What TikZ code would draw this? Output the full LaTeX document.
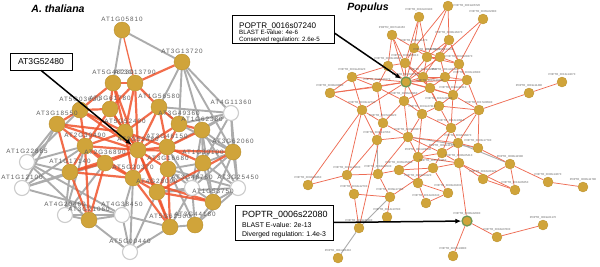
\documentclass[tikz,border=0pt]{standalone}
\usepackage{fontspec}
\setmainfont{Liberation Sans}
\newfontfamily\lblfont[LetterSpace=15]{Liberation Sans}
\usetikzlibrary{arrows.meta}
\definecolor{ngold}{RGB}{208,164,58}
\definecolor{ngoldb}{RGB}{186,144,46}
\definecolor{redge}{RGB}{240,84,44}
\definecolor{gedge}{RGB}{172,172,172}
\definecolor{rthin}{RGB}{238,108,84}
\definecolor{hgreen}{RGB}{112,150,84}
\pgfdeclarelayer{bg}
\pgfdeclarelayer{bgr}
\pgfsetlayers{bg,bgr,main}
\tikzset{
  gn/.style={circle,fill=ngold,draw=ngoldb,line width=0.4pt,minimum size=16pt,inner sep=0pt},
  wn/.style={circle,fill=white,draw=gray!40,line width=1.1pt,minimum size=15pt,inner sep=0pt},
  rn/.style={circle,fill=ngold,draw=ngoldb,line width=0.3pt,minimum size=10pt,inner sep=0pt},
  hn/.style={rn,draw=hgreen,line width=1.3pt},
  ll/.style={font=\lblfont\fontsize{6.3}{7}\selectfont,text=gray!75!black,inner sep=0.4pt},
  rl/.style={font=\fontsize{2.8}{3}\selectfont,text=gray!75!black,inner sep=0.3pt},
  ge/.style={draw=gedge,line width=1.9pt},
  re/.style={draw=redge,line width=2.2pt,opacity=0.85},
  te/.style={draw=rthin,line width=0.75pt},
  tg/.style={draw=gedge,line width=0.9pt},
  cbox/.style={draw=black,line width=0.7pt,fill=white,inner sep=0pt},
  arr/.style={draw=black,line width=1.5pt,-{Latex[length=6pt,width=5pt]}},
  ttl/.style={font=\bfseries\itshape\fontsize{10.5}{12}\selectfont,inner sep=0pt}
}
\begin{document}
\begin{tikzpicture}[x=1pt,y=-1pt]
\useasboundingbox (0,0) rectangle (600,266);
\begin{pgfonlayer}{bg}
\fill[white] (0,0) rectangle (600,266);
\end{pgfonlayer}
\node[ttl] (t1) at (58,9) {A. thaliana};
\node[ttl] (t2) at (368,8) {Populus};
% ---------- left network nodes
\node[gn,label={[ll]above:AT1G05810}] (L1) at (122,30) {};
\node[gn,label={[ll]above:AT3G13720}] (L2) at (182,62) {};
\node[gn,label={[ll]above:AT5G48230}] (L3) at (113,83) {};
\node[gn,label={[ll]above:AT3G13790}] (L4) at (135,83) {};
\node[gn,label={[ll]above:AT5G03630}] (L5) at (80,110) {};
\node[gn,label={[ll]above:AT3G61780}] (L6) at (110,109) {};
\node[gn,label={[ll]above:AT1G56580}] (L7) at (159,107) {};
\node[wn,label={[ll]above:AT4G11360}] (L8) at (231,113) {};
\node[gn,label={[ll]above:AT3G18550}] (L9) at (57,124) {};
\node[gn,label={[ll]above:AT5G52490}] (L10) at (125,132) {};
\node[gn,label={[ll]above:AT3G49360}] (L11) at (179,124) {};
\node[gn,label={[ll]above:AT1G62380}] (L12) at (202,130) {};
\node[gn,label={[ll]above:AT2G30490}] (L13) at (85,146) {};
\node[gn,label={[ll]above:AT3G52480}] (L14) at (138,150) {};
\node[gn,label={[ll]above:AT3G46150}] (L15) at (167,147) {};
\node[gn,label={[ll]above:AT3G62060}] (L16) at (233,152) {};
\node[wn,label={[ll]above:AT1G22885}] (L17) at (27,162) {};
\node[gn,label={[ll]above:AT2G36890}] (L18) at (105,163) {};
\node[gn,label={[ll]above:AT1G30100}] (L19) at (203,163) {};
\node[gn,label={[ll]above:AT1G17140}] (L20) at (70,172) {};
\node[gn,label={[ll]above:AT3G16680}] (L21) at (168,169) {};
\node[gn,label={[ll]above:AT5G20370}] (L22) at (133,178) {};
\node[wn,label={[ll]above:AT1G12100}] (L23) at (22,188) {};
\node[gn,label={[ll]above:AT4G28090}] (L24) at (157,192) {};
\node[wn,label={[ll]above:AT3G48760}] (L25) at (192,188) {};
\node[wn,label={[ll]above:AT3G25450}] (L26) at (238,188) {};
\node[gn,label={[ll]above:AT1G53750}] (L27) at (213,202) {};
\node[wn,label={[ll]above:AT4G20460}] (L28) at (65,215) {};
\node[gn,label={[ll]above:AT3G21060}] (L29) at (89,220) {};
\node[wn,label={[ll]above:AT4G38450}] (L30) at (122,215) {};
\node[gn,label={[ll]above:AT5G62500}] (L31) at (170,227) {};
\node[gn,label={[ll]above:AT3G44180}] (L32) at (195,225) {};
\node[wn,label={[ll]above:AT5G00440}] (L33) at (130,252) {};
% ---------- right network nodes
\node[rn,label={[rl]right:POPTR\_0001s06720}] (R1) at (448,6) {};
\node[rn,label={[rl]above:POPTR\_0010s03190}] (R2) at (419,17) {};
\node[rn,label={[rl]above:POPTR\_0005s02380}] (R3) at (483,19) {};
\node[rn,label={[rl]above:POPTR\_0007s11150}] (R4) at (392,35) {};
\node[rn,label={[rl]above:POPTR\_0008s16270}] (R5) at (449,40) {};
\node[rn,label={[rl]above:POPTR\_0002s21470}] (R6) at (414,48) {};
\node[rn,label={[rl]above:POPTR\_0014s09820}] (R7) at (427,57) {};
\node[rn,label={[rl]above:POPTR\_0006s14330}] (R8) at (440,57) {};
\node[rn,label={[rl]above:POPTR\_0003s18940}] (R9) at (388,66) {};
\node[rn,label={[rl]above:POPTR\_0012s05510}] (R10) at (405,63) {};
\node[rn,label={[rl]above:POPTR\_0004s08370}] (R11) at (459,64) {};
\node[rn,label={[rl]above:POPTR\_0001s40120}] (R12) at (352,77) {};
\node[hn,label={[rl]above:POPTR\_0016s07240}] (R13) at (406,82) {};
\node[rn,label={[rl]above:POPTR\_0009s12650}] (R14) at (423,77) {};
\node[rn,label={[rl]above:POPTR\_0011s04410}] (R15) at (445,77) {};
\node[rn,label={[rl]above:POPTR\_0002s13580}] (R16) at (467,80) {};
\node[rn,label={[rl]above:POPTR\_0005s19170}] (R17) at (377,87) {};
\node[rn,label={[rl]above:POPTR\_0015s10230}] (R18) at (430,88) {};
\node[rn,label={[rl]above:POPTR\_0008s00850}] (R19) at (330,93) {};
\node[rn,label={[rl]above:POPTR\_0004s22310}] (R20) at (453,95) {};
\node[rn,label={[rl]above:POPTR\_0013s14070}] (R21) at (562,82) {};
\node[rn,label={[rl]above:POPTR\_0019s11480}] (R22) at (529,93) {};
\node[rn,label={[rl]above:POPTR\_0006s03960}] (R23) at (404,101) {};
\node[rn,label={[rl]above:POPTR\_0010s21500}] (R24) at (439,106) {};
\node[rn,label={[rl]above:POPTR\_0003s12740}] (R25) at (362,110) {};
\node[rn,label={[rl]above:POPTR\_0001s27310}] (R26) at (422,114) {};
\node[rn,label={[rl]above:POPTR\_0017s08590}] (R27) at (479,110) {};
\node[rn,label={[rl]above:POPTR\_0007s04620}] (R28) at (383,123) {};
\node[rn,label={[rl]above:POPTR\_0012s13910}] (R29) at (451,128) {};
\node[rn,label={[rl]above:POPTR\_0002s17060}] (R30) at (377,140) {};
\node[rn,label={[rl]above:POPTR\_0009s00870}] (R31) at (408,137) {};
\node[rn,label={[rl]above:POPTR\_0004s16870}] (R33) at (458,143) {};
\node[rn,label={[rl]above:POPTR\_0003s17790}] (R34) at (478,148) {};
\node[rn,label={[rl]above:POPTR\_0011s09540}] (R35) at (418,157) {};
\node[rn,label={[rl]above:POPTR\_0014s11470}] (R36) at (442,153) {};
\node[rn,label={[rl]above:POPTR\_0006s05410}] (R37) at (459,163) {};
\node[rn,label={[rl]above:POPTR\_0008s11580}] (R38) at (510,164) {};
\node[rn,label={[rl]above:POPTR\_0001s13630}] (R39) at (347,175) {};
\node[rn,label={[rl]above:POPTR\_0018s02530}] (R40) at (378,174) {};
\node[rn,label={[rl]above:POPTR\_0005s25280}] (R41) at (399,170) {};
\node[rn,label={[rl]above:POPTR\_0010s14360}] (R42) at (433,168) {};
\node[rn,label={[rl]above:POPTR\_0002s08460}] (R43) at (308,185) {};
\node[rn,label={[rl]above:POPTR\_0015s04120}] (R44) at (418,183) {};
\node[rn,label={[rl]above:POPTR\_0016s01920}] (R45) at (483,179) {};
\node[rn,label={[rl]above:POPTR\_0006s14670}] (R46) at (548,182) {};
\node[rn,label={[rl]above:POPTR\_0013s06250}] (R47) at (515,190) {};
\node[rn,label={[rl]above:POPTR\_0006s11780}] (R48) at (583,187) {};
\node[rn,label={[rl]above:POPTR\_0004s12700}] (R49) at (354,194) {};
\node[rn,label={[rl]above:POPTR\_0009s17160}] (R50) at (390,197) {};
\node[rn,label={[rl]above:POPTR\_0003s20430}] (R51) at (448,193) {};
\node[rn,label={[rl]above:POPTR\_0012s01640}] (R52) at (426,203) {};
\node[rn,label={[rl]above:POPTR\_0014s13790}] (R53) at (387,217) {};
\node[hn,label={[rl]above:POPTR\_0006s22080}] (R54) at (467,221) {};
\node[rn,label={[rl]above:POPTR\_0019s01170}] (R55) at (543,225) {};
\node[rn,label={[rl]above:POPTR\_0001s31290}] (R56) at (359,228) {};
\node[rn,label={[rl]above:POPTR\_0018s07830}] (R57) at (497,237) {};
\node[rn,label={[rl]above:POPTR\_0007s13880}] (R58) at (453,256) {};
\node[rn,label={[rl]above:POPTR\_0011s00410}] (R59) at (338,258) {};
% ---------- edges
\begin{pgfonlayer}{bg}
\foreach \a/\b in {L1/L2,L1/L3,L2/L7,L2/L11,L2/L12,L2/L16,L2/L8,L8/L7,L8/L11,L8/L12,L8/L16,L8/L19,L8/L15,L8/L26,
  L17/L13,L17/L20,L17/L29,L17/L30,L17/L9,L23/L20,L23/L13,L23/L30,L23/L18,L28/L20,L28/L29,L28/L18,L28/L13,
  L30/L29,L30/L22,L30/L33,L33/L31,L33/L29,L33/L24,L33/L22,L25/L19,L25/L21,L25/L27,L25/L16,L25/L32,L25/L12,L25/L15,
  L26/L16,L26/L19,L26/L27,L26/L12,L26/L21,L27/L32,L27/L19,L27/L16,L32/L31,L32/L21,L19/L12,L19/L16,L19/L21,
  L16/L12,L16/L11,L11/L7,L28/L30,L24/L25,L12/L27,L31/L30,L5/L17,L9/L23,L26/L32,L25/L31,L24/L26}
  \draw[ge] (\a) -- (\b);
\foreach \a/\b in {R30/R40,R31/R34,R50/R56,R56/R59,R33/R38}
  \draw[tg] (\a) -- (\b);
\end{pgfonlayer}
\begin{pgfonlayer}{bgr}
\draw[re,line width=1.3pt] (L1) -- (L4);
\foreach \a/\b in {L2/L4,L3/L5,L3/L6,L3/L10,L3/L14,L4/L6,L4/L7,L4/L14,L4/L10,L5/L9,L5/L13,L5/L14,L5/L10,
  L6/L10,L6/L14,L6/L13,L7/L10,L7/L14,L7/L15,L9/L13,L9/L14,L9/L20,L10/L13,L10/L14,L10/L15,L10/L22,L13/L14,
  L13/L18,L13/L20,L14/L15,L14/L18,L14/L22,L14/L21,L14/L24,L14/L31,L15/L21,L15/L22,L18/L20,L18/L22,L20/L22,
  L20/L29,L18/L29,L22/L24,L22/L31,L24/L31,L13/L29,L21/L31,L24/L27,L14/L11,L11/L15,L12/L15,L16/L14,L19/L15,
  L20/L14,L9/L10,L5/L6,L3/L4,L11/L12,L13/L22,L16/L24,L27/L22,L7/L11,L21/L24}
  \draw[re] (\a) -- (\b);
\foreach \a/\b in {R1/R5,R1/R6,R1/R7,R2/R6,R2/R7,R2/R10,R3/R11,R3/R8,R4/R9,R4/R6,R4/R13,R4/R10,R5/R7,R5/R8,
  R5/R11,R5/R14,R5/R16,R6/R7,R6/R8,R6/R10,R6/R13,R7/R8,R7/R13,R7/R14,R7/R11,R8/R11,R8/R15,R8/R13,R9/R13,
  R9/R12,R9/R17,R9/R10,R10/R13,R10/R14,R10/R18,R11/R15,R11/R16,R11/R20,R12/R13,R12/R19,R12/R17,R12/R25,
  R13/R14,R13/R15,R13/R17,R13/R18,R13/R19,R13/R23,R13/R25,R13/R26,R13/R20,R13/R16,R14/R15,R14/R18,R14/R24,
  R15/R16,R15/R20,R15/R18,R16/R20,R16/R27,R17/R19,R17/R23,R17/R28,R18/R20,R18/R23,R18/R24,R19/R25,R20/R24,
  R20/R27,R20/R29,R21/R22,R22/R27,R23/R26,R23/R28,R23/R31,R24/R26,R24/R29,R24/R27,R25/R28,R25/R30,R25/R39,
  R26/R29,R26/R31,R26/R35,R27/R29,R27/R34,R27/R33,R28/R30,R28/R31,R29/R33,R29/R36,R29/R35,R30/R31,R30/R39,
  R31/R35,R31/R36,R31/R33,R33/R36,R33/R34,R33/R37,R34/R38,R35/R41,R35/R44,R35/R37,R35/R36,R36/R42,R36/R37,
  R37/R45,R37/R47,R37/R54,R38/R46,R38/R47,R38/R45,R46/R48,R39/R43,R39/R40,R39/R49,R40/R41,R40/R50,R41/R42,
  R41/R44,R42/R37,R42/R51,R44/R52,R44/R51,R49/R50,R49/R56,R50/R53,R50/R42,R54/R57,R57/R55,R54/R58,R56/R28,
  R51/R52,R45/R47,R40/R31,R43/R25}
  \draw[te] (\a) -- (\b);
\end{pgfonlayer}
% ---------- callouts
\node[cbox,minimum width=62pt,minimum height=17pt] (bL) at (41,61.5) {};
\node[font=\fontsize{8.6}{10}\selectfont,inner sep=0pt] (bLt) at (bL.center) {AT3G52480};
\draw[arr] (bL.south) -- (L14);
\node[cbox,minimum width=102pt,minimum height=28pt] (bT) at (283,29) {};
\node[font=\fontsize{8.1}{9}\selectfont,anchor=base west,inner sep=0pt] (bT1) at (239,28) {POPTR\_0016s07240};
\node[font=\fontsize{6.2}{7}\selectfont,anchor=base west,inner sep=0pt] (bT2) at (239,34.5) {BLAST E-value: 4e-6};
\node[font=\fontsize{6.2}{7}\selectfont,anchor=base west,inner sep=0pt] (bT3) at (239,41) {Conserved regulation: 2.6e-5};
\draw[arr] ([yshift=-4pt]bT.east) -- (R13);
\node[cbox,minimum width=98pt,minimum height=35pt] (bB) at (284,222.5) {};
\node[font=\fontsize{9}{10}\selectfont,anchor=base west,inner sep=0pt] (bB1) at (242,217) {POPTR\_0006s22080};
\node[font=\fontsize{6.9}{8}\selectfont,anchor=base west,inner sep=0pt] (bB2) at (242,227) {BLAST E-value: 2e-13};
\node[font=\fontsize{6.9}{8}\selectfont,anchor=base west,inner sep=0pt] (bB3) at (242,236) {Diverged regulation: 1.4e-3};
\draw[arr] (bB.east) -- (R54);
\end{tikzpicture}
\end{document}
